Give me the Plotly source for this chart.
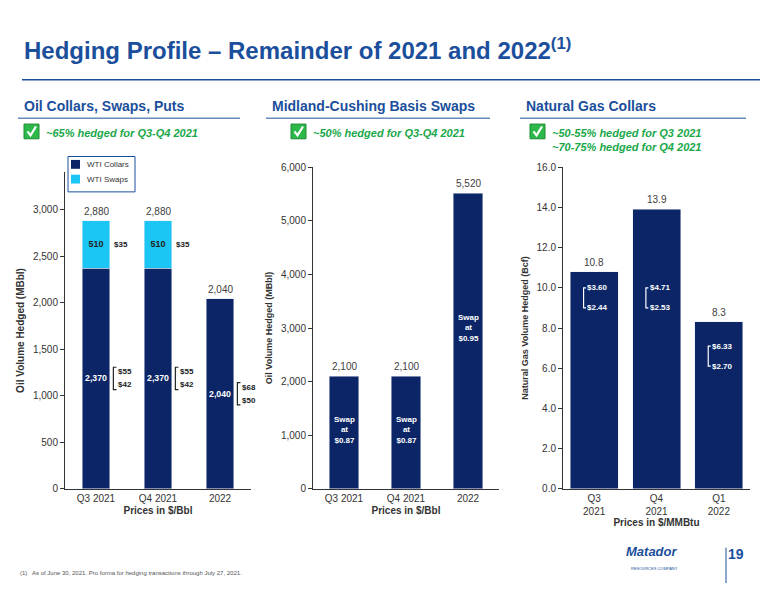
import plotly.graph_objects as go

W, H = 760, 584
OFF = 8
NAVY = "#0b2566"; LBLUE = "#1cc6f4"; TBLUE = "#1b4f9c"; GREEN = "#1aa84a"; GREY = "#404040"

oil_cats = ["Q3 2021", "Q4 2021", "2022"]
oil_collars = [2370, 2370, 2040]
oil_swaps = [510, 510, 0]
oil_totals = [2880, 2880, 2040]
oil_ceiling = ["$55", "$55", "$68"]
oil_floor = ["$42", "$42", "$50"]
oil_swap_price = ["$35", "$35", ""]
legend_names = ["WTI Collars", "WTI Swaps"]

basis_cats = ["Q3 2021", "Q4 2021", "2022"]
basis_vals = [2100, 2100, 5520]
basis_price = ["$0.87", "$0.87", "$0.95"]

gas_cats = ["Q3<br>2021", "Q4<br>2021", "Q1<br>2022"]
gas_vals = [10.8, 13.9, 8.3]
gas_ceiling = ["$3.60", "$4.71", "$6.33"]
gas_floor = ["$2.44", "$2.53", "$2.70"]

def px(x): return (x - OFF) / W
def py(y): return 1 - (y - OFF) / H

fig = go.Figure()
fig.add_bar(x=oil_cats, y=oil_collars, marker_color=NAVY, name=legend_names[0], width=0.45,
            text=[f"<b>{v:,}</b>" for v in oil_collars], textposition="inside", insidetextanchor="middle",
            textangle=0, textfont=dict(color="white", size=9), xaxis="x", yaxis="y")
fig.add_bar(x=oil_cats, y=oil_swaps, marker_color=LBLUE, name=legend_names[1], width=0.45,
            text=[f"<b>{v}</b>" if v else "" for v in oil_swaps], textposition="inside", insidetextanchor="middle",
            textangle=0, textfont=dict(color="#222", size=9), xaxis="x", yaxis="y")
fig.add_bar(x=basis_cats, y=basis_vals, marker_color=NAVY, width=0.48, xaxis="x2", yaxis="y2")
fig.add_bar(x=gas_cats, y=gas_vals, marker_color=NAVY, width=0.77, xaxis="x3", yaxis="y3")

ax = dict(showgrid=False, showline=True, linecolor="#333", linewidth=1, ticks="outside",
          ticklen=4, tickcolor="#333", tickfont=dict(size=10, color="#333"), fixedrange=True)
xax = dict(ax, ticks="", type="category", range=[-0.5, 2.5])
fig.update_layout(
    width=W, height=H, margin=dict(l=0, r=0, t=0, b=0), plot_bgcolor="white", paper_bgcolor="white",
    font=dict(family="Liberation Sans, Arial", color=GREY), barmode="stack", showlegend=False,
    xaxis=dict(domain=[px(65), px(251)], **xax,
               title=dict(text="<b>Prices in $/Bbl</b>", font=dict(size=10, color="#333"), standoff=4)),
    yaxis=dict(domain=[py(492), py(170)], range=[0, 3400], tickvals=[0, 500, 1000, 1500, 2000, 2500, 3000],
               tickformat=",", **ax,
               title=dict(text="<b>Oil Volume Hedged (MBbl)</b>", font=dict(size=10, color="#333"), standoff=6)),
    xaxis2=dict(domain=[px(313), px(499)], anchor="y2", **xax,
                title=dict(text="<b>Prices in $/Bbl</b>", font=dict(size=10, color="#333"), standoff=4)),
    yaxis2=dict(domain=[py(492), py(165)], range=[0, 6000], anchor="x2", tickformat=",", dtick=1000, **ax,
                title=dict(text="<b>Oil Volume Hedged (MBbl)</b>", font=dict(size=9, color="#333"), standoff=6)),
    xaxis3=dict(domain=[px(563), px(750)], anchor="y3", **xax,
                title=dict(text="<b>Prices in $/MMBtu</b>", font=dict(size=10, color="#333"), standoff=2)),
    yaxis3=dict(domain=[py(492), py(165)], range=[0, 16], anchor="x3", tickformat=".1f", dtick=2, **ax,
                title=dict(text="<b>Natural Gas Volume Hedged (Bcf)</b>", font=dict(size=9, color="#333"), standoff=6)),
)

ann = []
shapes = []
def A(**k):
    d = dict(showarrow=False); d.update(k); ann.append(d)

# header
A(x=px(22), y=py(45), xref="paper", yref="paper", xanchor="left", yanchor="middle",
  text="<b>Hedging Profile – Remainder of 2021 and 2022<sup>(1)</sup></b>", font=dict(size=24, color=TBLUE))
shapes.append(dict(type="line", xref="paper", yref="paper", x0=px(22), x1=px(760), y0=py(76), y1=py(76),
                   line=dict(color=TBLUE, width=1.5)))
for x0, x1, t in [(22, 240, "Oil Collars, Swaps, Puts"), (270, 490, "Midland-Cushing Basis Swaps"),
                  (524, 746, "Natural Gas Collars")]:
    A(x=px(x0), y=py(103), xref="paper", yref="paper", xanchor="left", yanchor="middle",
      text=f"<b>{t}</b>", font=dict(size=14, color=TBLUE))
    shapes.append(dict(type="line", xref="paper", yref="paper", x0=px(x0 - 4), x1=px(x1), y0=py(115), y1=py(115),
                       line=dict(color=TBLUE, width=1)))
for x0, t in [(24, "~65% hedged for Q3-Q4 2021"), (291, "~50% hedged for Q3-Q4 2021"),
              (530, "~50-55% hedged for Q3 2021<br>~70-75% hedged for Q4 2021")]:
    shapes.append(dict(type="rect", xref="paper", yref="paper", x0=px(x0), x1=px(x0 + 15), y0=py(121), y1=py(136),
                       fillcolor="#2db84a", line=dict(color="#1f8a36", width=1)))
    shapes.append(dict(type="path", xref="paper", yref="paper",
                       path=f"M {px(x0+3.5)},{py(128.5)} L {px(x0+6.5)},{py(132.5)} L {px(x0+12)},{py(123.5)}",
                       line=dict(color="white", width=2.2)))
    A(x=px(x0 + 20), y=py(122), xref="paper", yref="paper", xanchor="left", yanchor="top", align="left",
      text=f"<b><i>{t}</i></b>", font=dict(size=11, color=GREEN))

# manual legend
shapes.append(dict(type="rect", xref="paper", yref="paper", x0=px(68), x1=px(135), y0=py(154), y1=py(190),
                   fillcolor="rgba(0,0,0,0)", line=dict(color=TBLUE, width=1), layer="below"))
for k, (nm, col) in enumerate(zip(legend_names, [NAVY, LBLUE])):
    yy = 162 + k * 15
    shapes.append(dict(type="rect", xref="paper", yref="paper", x0=px(71), x1=px(80), y0=py(yy - 4.5), y1=py(yy + 4.5),
                       fillcolor=col, line=dict(width=0)))
    A(x=px(85), y=py(yy), xref="paper", yref="paper", xanchor="left", yanchor="middle", text=nm,
      font=dict(size=8, color="#333"))

# oil chart
for i, c in enumerate(oil_cats):
    A(x=i, y=oil_totals[i], xref="x", yref="y", yanchor="bottom", yshift=2, text=f"{oil_totals[i]:,}",
      font=dict(size=10, color=GREY))
    if oil_swap_price[i]:
        A(x=i + 0.26, y=oil_collars[i] + oil_swaps[i] / 2, xref="x", yref="y", xanchor="left",
          text=f"<b>{oil_swap_price[i]}</b>", font=dict(size=8, color="#222"))
    yc = oil_collars[i] / 2
    bx = i + 0.28
    shapes.append(dict(type="path", xref="x", yref="y",
                       path=f"M {bx+0.05},{yc+120} L {bx},{yc+120} L {bx},{yc-120} L {bx+0.05},{yc-120}",
                       line=dict(color="#222", width=1.2)))
    A(x=bx + 0.04, y=yc + 70, xref="x", yref="y", xanchor="left", text=f"<b>{oil_ceiling[i]}</b>", font=dict(size=8, color="#222"))
    A(x=bx + 0.04, y=yc - 70, xref="x", yref="y", xanchor="left", text=f"<b>{oil_floor[i]}</b>", font=dict(size=8, color="#222"))

# basis chart
for i, c in enumerate(basis_cats):
    A(x=i, y=basis_vals[i], xref="x2", yref="y2", yanchor="bottom", yshift=2, text=f"{basis_vals[i]:,}",
      font=dict(size=10, color=GREY))
    A(x=i, y=1100 if basis_vals[i] < 3000 else 3000, xref="x2", yref="y2",
      text=f"<b>Swap<br>at<br>{basis_price[i]}</b>", font=dict(size=8, color="white"))

# gas chart
for i, c in enumerate(gas_cats):
    A(x=i, y=gas_vals[i], xref="x3", yref="y3", yanchor="bottom", yshift=2, text=f"{gas_vals[i]}",
      font=dict(size=10, color=GREY))
    top = 10.0 if i < 2 else 7.1
    bot = 9.0 if i < 2 else 6.1
    bx = i - 0.17
    shapes.append(dict(type="path", xref="x3", yref="y3",
                       path=f"M {bx+0.04},{top} L {bx},{top} L {bx},{bot} L {bx+0.04},{bot}",
                       line=dict(color="white", width=1.2)))
    A(x=bx + 0.03, y=top, xref="x3", yref="y3", xanchor="left", text=f"<b>{gas_ceiling[i]}</b>", font=dict(size=8, color="white"))
    A(x=bx + 0.03, y=bot, xref="x3", yref="y3", xanchor="left", text=f"<b>{gas_floor[i]}</b>", font=dict(size=8, color="white"))

# footer
A(x=px(18), y=py(583), xref="paper", yref="paper", xanchor="left",
  text="(1)   As of June 30, 2021. Pro forma for hedging transactions through July 27, 2021.", font=dict(size=6, color="#555"))
A(x=px(680), y=py(566), xref="paper", yref="paper", text="<b><i>Matador</i></b>", font=dict(size=13, color=TBLUE))
A(x=px(680), y=py(578), xref="paper", yref="paper", text="RESOURCES COMPANY", font=dict(size=4, color=TBLUE))
shapes.append(dict(type="line", xref="paper", yref="paper", x0=px(726), x1=px(726), y0=py(552), y1=py(588),
                   line=dict(color=TBLUE, width=1)))
A(x=px(746), y=py(569), xref="paper", yref="paper", text="<b>19</b>", font=dict(size=14, color=TBLUE))

fig.update_layout(annotations=ann, shapes=shapes)
fig.write_html("out.html")
